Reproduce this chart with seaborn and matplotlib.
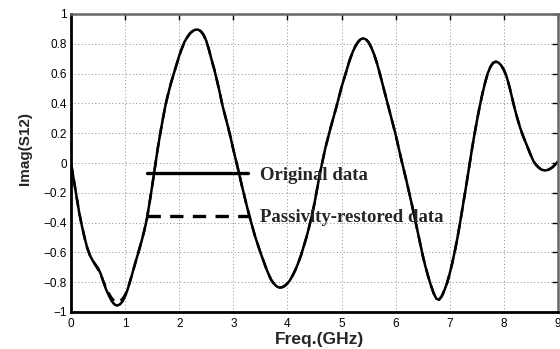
import numpy as np
import pandas as pd
import seaborn as sns
import matplotlib
matplotlib.use('Agg')
import matplotlib.pyplot as plt

# frequency grid (GHz) and Imag(S12)
freq = np.round(np.arange(0, 9.001, 0.05), 2)
original = [
    0.0, -0.11, -0.22, -0.33, -0.42, -0.50, -0.57, -0.62, -0.655, -0.68,
    -0.705, -0.745, -0.80, -0.85, -0.89, -0.925, -0.948, -0.957, -0.950, -0.93,
    -0.895, -0.845, -0.785, -0.72, -0.655, -0.595, -0.53, -0.46, -0.38, -0.27,
    -0.155, -0.03, 0.09, 0.20, 0.30, 0.395, 0.47, 0.54, 0.60, 0.66,
    0.72, 0.77, 0.815, 0.845, 0.87, 0.886, 0.895, 0.895, 0.884, 0.86,
    0.82, 0.76, 0.69, 0.625, 0.55, 0.47, 0.385, 0.315, 0.245, 0.17,
    0.09, 0.015, -0.06, -0.14, -0.215, -0.29, -0.36, -0.425, -0.49, -0.545,
    -0.60, -0.65, -0.70, -0.745, -0.785, -0.81, -0.828, -0.836, -0.834, -0.825,
    -0.808, -0.785, -0.752, -0.715, -0.67, -0.62, -0.56, -0.50, -0.43, -0.355,
    -0.27, -0.17, -0.07, 0.015, 0.10, 0.17, 0.24, 0.305, 0.37, 0.44,
    0.51, 0.57, 0.63, 0.69, 0.74, 0.78, 0.81, 0.83, 0.837, 0.83,
    0.81, 0.775, 0.73, 0.675, 0.61, 0.54, 0.47, 0.40, 0.33, 0.26,
    0.19, 0.11, 0.03, -0.045, -0.12, -0.20, -0.28, -0.365, -0.45, -0.535,
    -0.62, -0.695, -0.76, -0.82, -0.872, -0.91, -0.918, -0.895, -0.855, -0.805,
    -0.74, -0.665, -0.58, -0.485, -0.38, -0.27, -0.16, -0.045, 0.07, 0.18,
    0.28, 0.375, 0.46, 0.535, 0.60, 0.645, 0.672, 0.68, 0.674, 0.655,
    0.625, 0.58, 0.515, 0.44, 0.365, 0.298, 0.237, 0.185, 0.14, 0.095,
    0.05, 0.01, -0.015, -0.033, -0.045, -0.05, -0.048, -0.04, -0.028, -0.01,
    0.01,
]
# passivity-restored curve only differs around the first dip (0.40-1.15 GHz)
restored = list(original)
restored[8:24] = [-0.655, -0.685, -0.715, -0.75, -0.795, -0.84, -0.875, -0.905,
                  -0.925, -0.932, -0.928, -0.912, -0.885, -0.84, -0.783, -0.72]

xticks = [0, 1, 2, 3, 4, 5, 6, 7, 8, 9]
yticks = [-1, -0.8, -0.6, -0.4, -0.2, 0, 0.2, 0.4, 0.6, 0.8, 1]
ytick_labels = ['\u22121', '\u22120.8', '\u22120.6', '\u22120.4', '\u22120.2',
                '0', '0.2', '0.4', '0.6', '0.8', '1']

df = pd.DataFrame({'freq': freq, 'orig': original, 'rest': restored})

sns.set_style('white')
plt.rcParams['font.family'] = ['Liberation Sans', 'DejaVu Sans']

fig = plt.figure(figsize=(5.6, 3.49), dpi=100)
ax = fig.add_axes([71 / 560, 1 - 312 / 349, 487 / 560, 298 / 349])

dash = (0, (4, 2.8))
sns.lineplot(data=df, x='freq', y='rest', color='black', lw=1.8,
             linestyle=dash, label='Passivity-restored data', ax=ax)
sns.lineplot(data=df, x='freq', y='orig', color='black', lw=1.8,
             label='Original data', ax=ax)

ax.set_xlim(0, 9)
ax.set_ylim(-1, 1)
ax.set_xticks(xticks)
ax.set_xticklabels([str(t) for t in xticks])
ax.set_yticks(yticks)
ax.set_yticklabels(ytick_labels)
ax.tick_params(direction='in', length=4, width=1, labelsize=8.5,
               top=True, right=True, colors='black')
ax.tick_params(axis='y', pad=3)
ax.tick_params(axis='x', pad=4)
ax.grid(True, color='#8a8a8a', linestyle=(0, (1, 2.5)), linewidth=0.7)

for side in ['left', 'bottom']:
    ax.spines[side].set_color('black')
    ax.spines[side].set_linewidth(2)
for side in ['top', 'right']:
    ax.spines[side].set_color('#666666')
    ax.spines[side].set_linewidth(1.8)

ax.set_xlabel('Freq.(GHz)', fontsize=12.5, fontweight='bold')
ax.set_ylabel('Imag(S12)', fontsize=11, fontweight='bold')
ax.xaxis.set_label_coords(0.51, -0.067)
ax.yaxis.set_label_coords(-0.08, 0.55)

# legend drawn inside the axes, no frame, long handles
handles, labels = ax.get_legend_handles_labels()
order = [labels.index('Original data'), labels.index('Passivity-restored data')]
leg = ax.legend([handles[i] for i in order], [labels[i] for i in order],
                loc='upper left', bbox_to_anchor=(1.40, -0.025),
                bbox_transform=ax.transData, frameon=False,
                borderpad=0, borderaxespad=0, handlelength=5.4,
                handletextpad=0.65, labelspacing=1.35,
                prop={'family': 'Liberation Serif', 'weight': 'bold',
                      'size': 13.5})
for line in leg.get_lines():
    line.set_linewidth(2.4)

fig.savefig('out.png', dpi=100)
